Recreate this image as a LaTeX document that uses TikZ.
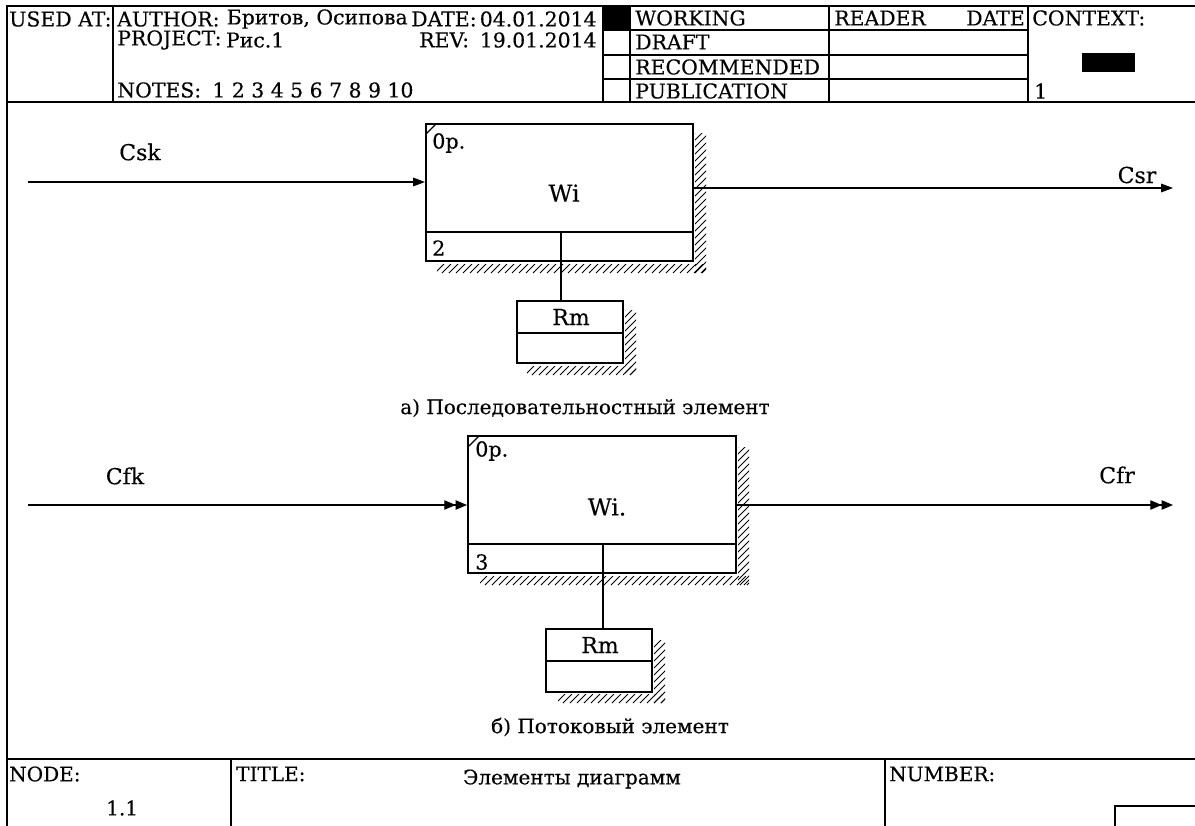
\documentclass[tikz,border=0pt]{standalone}
\usepackage{fontspec}
\setmainfont{DejaVu Serif}[FakeBold=0.3]
\usetikzlibrary{arrows.meta}

\newcommand\hatchrect[4]{%
  \begin{scope}
    \clip (#1,#2) rectangle (#3,#4);
    \pgfmathtruncatemacro\hA{#1+#2-14}
    \pgfmathtruncatemacro\hB{#3+#4+14}
    \pgfmathtruncatemacro\hAA{\hA+7}
    \foreach \c in {\hA,\hAA,...,\hB}
      \draw[hatchline] (\c-#4,#4) -- (\c-#2,#2);
  \end{scope}}

\begin{document}
\begin{tikzpicture}[x=0.75pt,y=-0.75pt,
  frame/.style={line width=1pt},
  hatchline/.style={line width=0.6pt},
  conn/.style={line width=0.85pt},
  sarrow/.style={conn,-{Triangle[length=9pt,width=6.5pt]}},
  darrow/.style={conn,-{Triangle[length=8.5pt,width=7pt]Triangle[length=8.5pt,width=7pt]}},
  abox/.style 2 args={draw,line width=1.5pt,inner sep=0pt,minimum width=#1*0.75pt,minimum height=#2*0.75pt},
  innerline/.style={line width=1.3pt},
  hdr/.style={inner sep=0pt,font=\fontsize{15.3}{17}\selectfont},
  btm/.style={inner sep=0pt,font=\fontsize{15}{17}\selectfont},
  lbl/.style={inner sep=0pt,font=\fontsize{16.5}{18}\selectfont},
  captxt/.style={inner sep=0pt,font=\fontsize{15}{18}\selectfont},
  boxname/.style={inner sep=0pt,font=\fontsize{17.5}{20}\selectfont},
  rmname/.style={inner sep=0pt,font=\fontsize{16.5}{18}\selectfont},
  smalltxt/.style={inner sep=0pt,font=\fontsize{15.5}{17}\selectfont}
]
\useasboundingbox (0,0) rectangle (1195,825);
\clip (0,0) rectangle (1195,825);
\fill[white] (0,0) rectangle (1195,825);

% ---------- frame ----------
\draw[frame] (7,6) rectangle (1210,840);
\draw[frame] (7,102) -- (1210,102);
% header verticals
\draw[frame] (113,6) -- (113,102);
\draw[frame] (603,6) -- (603,102);
\draw[frame] (630,6) -- (630,102);
\draw[frame] (829,6) -- (829,102);
\draw[frame] (1028,6) -- (1028,102);
\foreach \yy in {30,55,79} \draw[frame] (603,\yy) -- (1028,\yy);
\fill (603,6) rectangle (630,30);
\fill (1082,53) rectangle (1135,72);

% header texts
\node[hdr,anchor=west] (usedat) at (9,19) {USED AT:};
\node[hdr,anchor=west] (author) at (117,19) {AUTHOR:};
\node[hdr,anchor=west] (authorv) at ([xshift=5pt]author.east) {Бритов, Осипова};
\node[hdr,anchor=west] (date) at (411,19) {DATE:};
\node[hdr,anchor=west] (datev) at ([xshift=2pt]date.east) {04.01.2014};
\node[hdr,anchor=west] (project) at (117,40) {PROJECT:};
\node[hdr,anchor=west] (projectv) at ([xshift=3pt]project.east) {Рис.1};
\node[hdr,anchor=west] (rev) at (419,40) {REV:};
\node[hdr,anchor=east] (revv) at (datev.east |- rev.east) {19.01.2014};
\node[hdr,anchor=west] (notes) at (117,90) {NOTES:};
\node[hdr,anchor=west] (notesv) at ([xshift=8pt]notes.east) {1 2 3 4 5 6 7 8 9 10};
\node[hdr,anchor=west] (working) at (635,18) {WORKING};
\node[hdr,anchor=west] (draft) at (635,42) {DRAFT};
\node[hdr,anchor=west] (recom) at (635,67) {RECOMMENDED};
\node[hdr,anchor=west] (publ) at (635,91) {PUBLICATION};
\node[hdr,anchor=west] (reader) at (834,18) {READER};
\node[hdr,anchor=east] (rdate) at (1025,18) {DATE};
\node[hdr,anchor=west] (context) at (1032,18) {CONTEXT:};
\node[hdr,anchor=west] (ctxone) at (1034,91) {1};

% ---------- bottom ----------
\draw[frame] (7,759) -- (1210,759);
\draw[frame] (231,759) -- (231,840);
\draw[frame] (885,759) -- (885,840);
\draw[frame] (1115,806) rectangle (1210,840);
\node[btm,anchor=west] (nodel) at (9,774) {NODE:};
\node[btm,anchor=west] (nodev) at (106,808) {1.1};
\node[btm,anchor=west] (titlel) at (236,774) {TITLE:};
\node[btm] (titlev) at (572,779) {Элементы диаграмм};
\node[btm,anchor=west] (numberl) at (889,774) {NUMBER:};

% ---------- part a ----------
\hatchrect{695}{133}{706}{273}
\hatchrect{437}{264}{706}{273}
\node[abox={267}{137}] (W1) at (559.5,192.5) {};
\draw[innerline] (426,232) -- (693,232);
\draw[innerline] (561,232) -- (561,261);
\draw[line width=1pt] (426,134) -- (436,124);
\node[smalltxt,anchor=west] (op1) at (432,143) {0p.};
\node[boxname] (wi1) at (564,193) {Wi};
\node[smalltxt,anchor=west] (n2) at (432,248) {2};

\hatchrect{625}{310}{636}{375}
\hatchrect{527}{366}{636}{375}
\node[abox={106}{62}] (Rm1) at (570,332) {};
\draw[innerline] (517,333) -- (623,333);
\node[rmname] (rm1t) at (571,317) {Rm};
\coordinate (dv1) at (561,280);
\draw[conn] (W1.south -| dv1) -- (Rm1.north -| dv1);

\coordinate (in1) at (28,182);
\coordinate (out1) at (1173,188);
\draw[sarrow] (in1) -- (in1 -| W1.west);
\draw[sarrow] (out1 -| W1.east) -- (out1);
\node[lbl] (csk) at (140,152) {Csk};
\node[lbl] (csr) at (1137,175) {Csr};
\node[captxt] (capa) at (585,408) {а) Последовательностный элемент};

% ---------- part b ----------
\hatchrect{738}{447}{749}{585}
\hatchrect{480}{576}{749}{585}
\node[abox={268}{137}] (W2) at (602,504.5) {};
\draw[innerline] (468,544) -- (736,544);
\draw[innerline] (603,544) -- (603,573);
\draw[line width=1pt] (469,446) -- (479,436);
\node[smalltxt,anchor=west] (op2) at (475,451) {0p.};
\node[boxname] (wi2) at (607,507) {Wi.};
\node[smalltxt,anchor=west] (n3) at (475,562) {3};

\hatchrect{654}{640}{665}{703}
\hatchrect{558}{694}{665}{703}
\node[abox={106}{63}] (Rm2) at (599,660) {};
\draw[innerline] (546,661) -- (652,661);
\node[rmname] (rm2t) at (600,645) {Rm};
\coordinate (dv2) at (603,600);
\draw[conn] (W2.south -| dv2) -- (Rm2.north -| dv2);

\coordinate (in2) at (28,505);
\coordinate (out2) at (1173,505);
\draw[darrow] (in2) -- (in2 -| W2.west);
\draw[darrow] (out2 -| W2.east) -- (out2);
\node[lbl] (cfk) at (125,476) {Cfk};
\node[lbl] (cfr) at (1117,475) {Cfr};
\node[captxt] (capb) at (610,727) {б) Потоковый элемент};
\end{tikzpicture}
\end{document}
